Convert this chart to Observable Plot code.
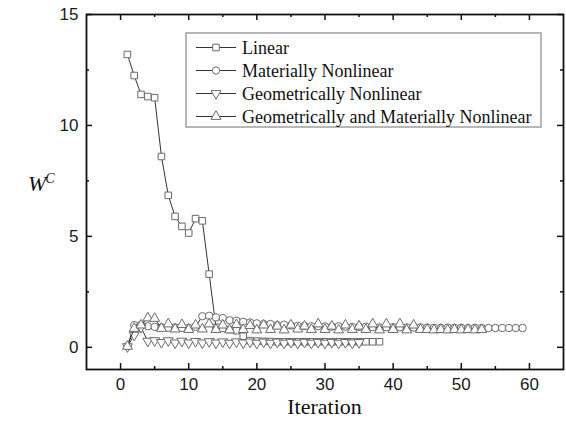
<!DOCTYPE html>
<html>
<head>
<meta charset="utf-8">
<script src="https://cdn.jsdelivr.net/npm/d3@7"></script>
<script src="https://cdn.jsdelivr.net/npm/@observablehq/plot@0.6"></script>
<style>
  html, body { margin: 0; padding: 0; background: #fff; }
  #chart { position: relative; width: 566px; height: 429px; }
</style>
</head>
<body>
<div id="chart"></div>
<script>
// ---- data (iteration = index + 1) ----
const seriesNames = ["Linear", "Materially Nonlinear", "Geometrically Nonlinear", "Geometrically and Materially Nonlinear"];

const linearValues = [13.2, 12.25, 11.4, 11.3, 11.25, 8.6, 6.85, 5.9, 5.45, 5.15, 5.8, 5.7, 3.3,
  0.9, 0.85, 0.8, 0.75, 0.5, 0.3, 0.28, 0.27, 0.26,
  0.25, 0.25, 0.25, 0.25, 0.25, 0.25, 0.25, 0.25, 0.25, 0.25, 0.25, 0.25, 0.25, 0.25, 0.25, 0.25];

const materialValues = [0.05, 1.0, 1.02, 0.95, 0.92, 0.9, 0.88, 0.9, 0.87, 0.88, 0.92,
  1.4, 1.42, 1.35, 1.32, 1.22, 1.2, 1.15, 1.12, 1.08, 1.05, 1.05, 1.0, 1.02, 0.98,
  0.97, 0.96, 0.95, 0.95, 0.94, 0.93, 0.95, 0.93, 0.92, 0.92,
  0.93, 0.91, 0.9, 0.9, 0.91, 0.9, 0.9, 0.89, 0.9, 0.89,
  0.88, 0.88, 0.89, 0.88, 0.88, 0.87, 0.88, 0.87, 0.87, 0.87,
  0.87, 0.87, 0.87, 0.87];

const geometricValues = [0.03, 0.55, 0.9, 0.28, 0.3, 0.22, 0.3, 0.2, 0.28, 0.2,
  0.27, 0.2, 0.26, 0.2, 0.25, 0.19, 0.25, 0.2, 0.24, 0.19,
  0.24, 0.19, 0.24, 0.19, 0.23, 0.19, 0.23, 0.19, 0.23, 0.19,
  0.23, 0.19, 0.22, 0.2, 0.22];

const geoMatValues = [0.04, 0.85, 1.0, 1.32, 1.3, 0.85, 1.05, 0.82, 1.02, 0.8,
  1.0, 0.82, 1.05, 0.8, 1.0, 0.78, 1.02, 0.8, 0.98, 0.78,
  1.0, 0.8, 0.95, 0.78, 1.0, 0.82, 0.95, 0.8, 1.05, 0.8,
  0.95, 0.78, 1.0, 0.8, 0.95, 0.8, 1.05, 0.78, 1.05, 0.8,
  1.05, 0.78, 1.0, 0.8, 0.8, 0.78, 0.8, 0.78, 0.8, 0.78,
  0.8, 0.78, 0.8];

const xTicks = [0, 10, 20, 30, 40, 50, 60];
const xMinorTicks = [5, 15, 25, 35, 45, 55];
const yTicks = [0, 5, 10, 15];
const yMinorTicks = [2.5, 7.5, 12.5];

// ---- symbols ----
const symbolTriangleDown = {
  draw(context, size) {
    const sqrt3 = Math.sqrt(3);
    const y = -Math.sqrt(size / (sqrt3 * 3));
    context.moveTo(0, -y * 2);
    context.lineTo(-sqrt3 * y, y);
    context.lineTo(sqrt3 * y, y);
    context.closePath();
  }
};
const symbols = [d3.symbolSquare, d3.symbolCircle, symbolTriangleDown, d3.symbolTriangle];
const allValues = [linearValues, materialValues, geometricValues, geoMatValues];

const W = 566, H = 429, mL = 86, mR = 3, mT = 14, mB = 60;
const innerW = W - mL - mR, innerH = H - mT - mB;
const R = 3.7;
const markerStroke = "#6a6a6a";
const lineStroke = "#333";
const axisColor = "#111";

const seriesMarks = allValues.flatMap((vals, k) => {
  const data = vals.map((v, i) => ({iter: i + 1, w: v}));
  return [
    Plot.line(data, {x: "iter", y: "w", stroke: lineStroke, strokeWidth: 1}),
    Plot.dot(data, {x: "iter", y: "w", symbol: symbols[k], r: R, stroke: markerStroke, fill: "white", strokeWidth: 1})
  ];
});

const svg = Plot.plot({
  width: W, height: H,
  marginLeft: mL, marginRight: mR, marginTop: mT, marginBottom: mB,
  x: {domain: [-5, 65]},
  y: {domain: [-1, 15]},
  style: {background: "white", fontFamily: "'Liberation Sans', Arial, sans-serif", fontSize: "17px", color: "#1a1a1a", overflow: "visible"},
  marks: [
    ...seriesMarks,
    Plot.axisX(xTicks, {tickSize: 0, tickPadding: 8, label: null, fontSize: 17}),
    Plot.axisY(yTicks, {tickSize: 0, tickPadding: 8, label: null, fontSize: 17}),
    Plot.tickX(xTicks, {x: d => d, insetTop: innerH - 6, stroke: axisColor, strokeWidth: 1.5}),
    Plot.tickX(xTicks, {x: d => d, insetBottom: innerH - 6, stroke: axisColor, strokeWidth: 1.5}),
    Plot.tickX(xMinorTicks, {x: d => d, insetTop: innerH - 3, stroke: axisColor, strokeWidth: 1.5}),
    Plot.tickX(xMinorTicks, {x: d => d, insetBottom: innerH - 3, stroke: axisColor, strokeWidth: 1.5}),
    Plot.tickY(yTicks, {y: d => d, insetRight: innerW - 6, stroke: axisColor, strokeWidth: 1.5}),
    Plot.tickY(yTicks, {y: d => d, insetLeft: innerW - 6, stroke: axisColor, strokeWidth: 1.5}),
    Plot.tickY(yMinorTicks, {y: d => d, insetRight: innerW - 3, stroke: axisColor, strokeWidth: 1.5}),
    Plot.tickY(yMinorTicks, {y: d => d, insetLeft: innerW - 3, stroke: axisColor, strokeWidth: 1.5}),
    Plot.frame({stroke: axisColor, strokeWidth: 1.8})
  ]
});

document.getElementById("chart").appendChild(svg);

// ---- axis titles ----
const s = d3.select(svg);
const serif = "'Liberation Serif', 'Times New Roman', serif";
s.append("text")
  .attr("x", (mL + W - mR) / 2).attr("y", 414)
  .attr("text-anchor", "middle")
  .attr("font-family", serif).attr("font-size", 22).attr("fill", "#111")
  .text("Iteration");
const yl = s.append("text")
  .attr("x", 28).attr("y", 191)
  .attr("text-anchor", "start")
  .attr("font-family", serif).attr("font-size", 22).attr("font-style", "italic").attr("fill", "#111");
yl.append("tspan").text("W");
yl.append("tspan").attr("font-size", 14).attr("dy", -8).attr("dx", -1).text("C");

// ---- legend ----
const lg = s.append("g").attr("transform", "translate(186,33)");
lg.append("rect").attr("width", 355).attr("height", 94)
  .attr("fill", "white").attr("stroke", "#888").attr("stroke-width", 1.2);
seriesNames.forEach((name, k) => {
  const cy = 14.5 + k * 23;
  lg.append("line").attr("x1", 10).attr("x2", 50).attr("y1", cy).attr("y2", cy)
    .attr("stroke", lineStroke).attr("stroke-width", 1);
  lg.append("path").attr("transform", `translate(30,${cy})`)
    .attr("d", d3.symbol(symbols[k], Math.PI * R * R)())
    .attr("fill", "white").attr("stroke", markerStroke).attr("stroke-width", 1);
  lg.append("text").attr("x", 56).attr("y", cy).attr("dy", "0.35em")
    .attr("text-anchor", "start")
    .attr("font-family", serif).attr("font-size", 18).attr("fill", "#111")
    .text(name);
});
</script>
</body>
</html>
